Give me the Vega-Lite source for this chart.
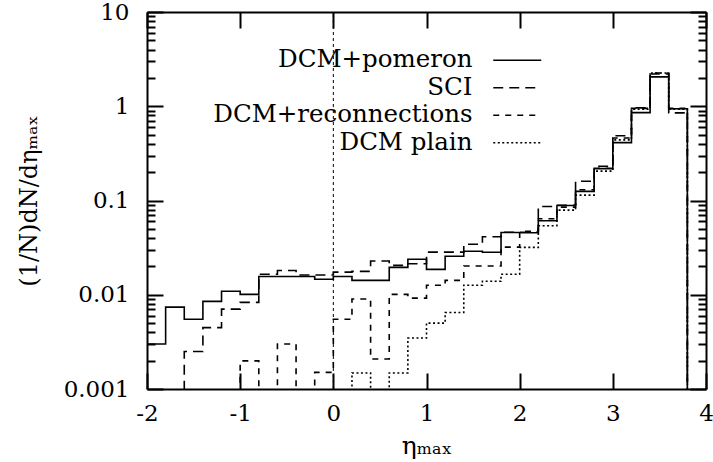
{
  "$schema": "https://vega.github.io/schema/vega-lite/v6.json",
  "width": 559,
  "height": 377,
  "autosize": {"type": "none"},
  "padding": {"left": 147, "top": 12, "right": 7, "bottom": 73},
  "background": "white",
  "config": {
    "view": {"stroke": null},
    "font": "DejaVu Serif",
    "axis": {
      "grid": false,
      "domainColor": "black",
      "domainWidth": 2,
      "tickColor": "black",
      "tickWidth": 2,
      "labelColor": "black",
      "titleColor": "black",
      "labelFont": "DejaVu Serif",
      "titleFont": "DejaVu Serif",
      "titleFontWeight": "normal",
      "labelFlush": false
    }
  },
  "datasets": {
    "hist": [
      {"model": "DCM+pomeron", "eta": -2.0, "value": 0.0030},
      {"model": "DCM+pomeron", "eta": -1.8, "value": 0.0074},
      {"model": "DCM+pomeron", "eta": -1.6, "value": 0.0055},
      {"model": "DCM+pomeron", "eta": -1.4, "value": 0.0085},
      {"model": "DCM+pomeron", "eta": -1.2, "value": 0.0109},
      {"model": "DCM+pomeron", "eta": -1.0, "value": 0.0101},
      {"model": "DCM+pomeron", "eta": -0.8, "value": 0.0156},
      {"model": "DCM+pomeron", "eta": -0.6, "value": 0.0156},
      {"model": "DCM+pomeron", "eta": -0.4, "value": 0.0156},
      {"model": "DCM+pomeron", "eta": -0.2, "value": 0.0146},
      {"model": "DCM+pomeron", "eta": 0.0, "value": 0.0156},
      {"model": "DCM+pomeron", "eta": 0.2, "value": 0.0142},
      {"model": "DCM+pomeron", "eta": 0.4, "value": 0.0142},
      {"model": "DCM+pomeron", "eta": 0.6, "value": 0.0195},
      {"model": "DCM+pomeron", "eta": 0.8, "value": 0.0238},
      {"model": "DCM+pomeron", "eta": 1.0, "value": 0.0186},
      {"model": "DCM+pomeron", "eta": 1.2, "value": 0.0256},
      {"model": "DCM+pomeron", "eta": 1.4, "value": 0.0289},
      {"model": "DCM+pomeron", "eta": 1.6, "value": 0.0282},
      {"model": "DCM+pomeron", "eta": 1.8, "value": 0.0458},
      {"model": "DCM+pomeron", "eta": 2.0, "value": 0.0455},
      {"model": "DCM+pomeron", "eta": 2.2, "value": 0.061},
      {"model": "DCM+pomeron", "eta": 2.4, "value": 0.0886},
      {"model": "DCM+pomeron", "eta": 2.6, "value": 0.125},
      {"model": "DCM+pomeron", "eta": 2.8, "value": 0.217},
      {"model": "DCM+pomeron", "eta": 3.0, "value": 0.411},
      {"model": "DCM+pomeron", "eta": 3.2, "value": 0.855},
      {"model": "DCM+pomeron", "eta": 3.4, "value": 2.05},
      {"model": "DCM+pomeron", "eta": 3.6, "value": 0.94},
      {"model": "DCM+pomeron", "eta": 3.8, "value": 0.00001},
      {"model": "SCI", "eta": -2.0, "value": 0.00001},
      {"model": "SCI", "eta": -1.8, "value": 0.00001},
      {"model": "SCI", "eta": -1.6, "value": 0.0025},
      {"model": "SCI", "eta": -1.4, "value": 0.00448},
      {"model": "SCI", "eta": -1.2, "value": 0.00703},
      {"model": "SCI", "eta": -1.0, "value": 0.0083},
      {"model": "SCI", "eta": -0.8, "value": 0.0165},
      {"model": "SCI", "eta": -0.6, "value": 0.0181},
      {"model": "SCI", "eta": -0.4, "value": 0.0162},
      {"model": "SCI", "eta": -0.2, "value": 0.0162},
      {"model": "SCI", "eta": 0.0, "value": 0.0174},
      {"model": "SCI", "eta": 0.2, "value": 0.0177},
      {"model": "SCI", "eta": 0.4, "value": 0.0228},
      {"model": "SCI", "eta": 0.6, "value": 0.0205},
      {"model": "SCI", "eta": 0.8, "value": 0.0213},
      {"model": "SCI", "eta": 1.0, "value": 0.0283},
      {"model": "SCI", "eta": 1.2, "value": 0.0283},
      {"model": "SCI", "eta": 1.4, "value": 0.0343},
      {"model": "SCI", "eta": 1.6, "value": 0.0413},
      {"model": "SCI", "eta": 1.8, "value": 0.046},
      {"model": "SCI", "eta": 2.0, "value": 0.046},
      {"model": "SCI", "eta": 2.2, "value": 0.0865},
      {"model": "SCI", "eta": 2.4, "value": 0.089},
      {"model": "SCI", "eta": 2.6, "value": 0.16},
      {"model": "SCI", "eta": 2.8, "value": 0.23},
      {"model": "SCI", "eta": 3.0, "value": 0.487},
      {"model": "SCI", "eta": 3.2, "value": 0.96},
      {"model": "SCI", "eta": 3.4, "value": 2.2},
      {"model": "SCI", "eta": 3.6, "value": 0.85},
      {"model": "SCI", "eta": 3.8, "value": 0.00001},
      {"model": "DCM+reconnections", "eta": -2.0, "value": 0.00001},
      {"model": "DCM+reconnections", "eta": -1.8, "value": 0.00001},
      {"model": "DCM+reconnections", "eta": -1.6, "value": 0.00001},
      {"model": "DCM+reconnections", "eta": -1.4, "value": 0.00001},
      {"model": "DCM+reconnections", "eta": -1.2, "value": 0.00001},
      {"model": "DCM+reconnections", "eta": -1.0, "value": 0.00199},
      {"model": "DCM+reconnections", "eta": -0.8, "value": 0.00001},
      {"model": "DCM+reconnections", "eta": -0.6, "value": 0.0030},
      {"model": "DCM+reconnections", "eta": -0.4, "value": 0.00001},
      {"model": "DCM+reconnections", "eta": -0.2, "value": 0.0015},
      {"model": "DCM+reconnections", "eta": 0.0, "value": 0.0055},
      {"model": "DCM+reconnections", "eta": 0.2, "value": 0.0090},
      {"model": "DCM+reconnections", "eta": 0.4, "value": 0.00208},
      {"model": "DCM+reconnections", "eta": 0.6, "value": 0.0101},
      {"model": "DCM+reconnections", "eta": 0.8, "value": 0.0092},
      {"model": "DCM+reconnections", "eta": 1.0, "value": 0.0126},
      {"model": "DCM+reconnections", "eta": 1.2, "value": 0.0142},
      {"model": "DCM+reconnections", "eta": 1.4, "value": 0.0202},
      {"model": "DCM+reconnections", "eta": 1.6, "value": 0.0202},
      {"model": "DCM+reconnections", "eta": 1.8, "value": 0.032},
      {"model": "DCM+reconnections", "eta": 2.0, "value": 0.047},
      {"model": "DCM+reconnections", "eta": 2.2, "value": 0.064},
      {"model": "DCM+reconnections", "eta": 2.4, "value": 0.085},
      {"model": "DCM+reconnections", "eta": 2.6, "value": 0.13},
      {"model": "DCM+reconnections", "eta": 2.8, "value": 0.22},
      {"model": "DCM+reconnections", "eta": 3.0, "value": 0.46},
      {"model": "DCM+reconnections", "eta": 3.2, "value": 0.95},
      {"model": "DCM+reconnections", "eta": 3.4, "value": 2.25},
      {"model": "DCM+reconnections", "eta": 3.6, "value": 0.95},
      {"model": "DCM+reconnections", "eta": 3.8, "value": 0.00001},
      {"model": "DCM plain", "eta": -2.0, "value": 0.00001},
      {"model": "DCM plain", "eta": -1.8, "value": 0.00001},
      {"model": "DCM plain", "eta": -1.6, "value": 0.00001},
      {"model": "DCM plain", "eta": -1.4, "value": 0.00001},
      {"model": "DCM plain", "eta": -1.2, "value": 0.00001},
      {"model": "DCM plain", "eta": -1.0, "value": 0.00001},
      {"model": "DCM plain", "eta": -0.8, "value": 0.00001},
      {"model": "DCM plain", "eta": -0.6, "value": 0.00001},
      {"model": "DCM plain", "eta": -0.4, "value": 0.00001},
      {"model": "DCM plain", "eta": -0.2, "value": 0.00001},
      {"model": "DCM plain", "eta": 0.0, "value": 0.00001},
      {"model": "DCM plain", "eta": 0.2, "value": 0.00148},
      {"model": "DCM plain", "eta": 0.4, "value": 0.00001},
      {"model": "DCM plain", "eta": 0.6, "value": 0.00148},
      {"model": "DCM plain", "eta": 0.8, "value": 0.00347},
      {"model": "DCM plain", "eta": 1.0, "value": 0.0050},
      {"model": "DCM plain", "eta": 1.2, "value": 0.00648},
      {"model": "DCM plain", "eta": 1.4, "value": 0.0126},
      {"model": "DCM plain", "eta": 1.6, "value": 0.0139},
      {"model": "DCM plain", "eta": 1.8, "value": 0.0165},
      {"model": "DCM plain", "eta": 2.0, "value": 0.0318},
      {"model": "DCM plain", "eta": 2.2, "value": 0.054},
      {"model": "DCM plain", "eta": 2.4, "value": 0.079},
      {"model": "DCM plain", "eta": 2.6, "value": 0.114},
      {"model": "DCM plain", "eta": 2.8, "value": 0.205},
      {"model": "DCM plain", "eta": 3.0, "value": 0.44},
      {"model": "DCM plain", "eta": 3.2, "value": 0.93},
      {"model": "DCM plain", "eta": 3.4, "value": 2.25},
      {"model": "DCM plain", "eta": 3.6, "value": 0.93},
      {"model": "DCM plain", "eta": 3.8, "value": 0.00001}
    ],
    "zero": [{"eta": 0}]
  },
  "resolve": {
    "scale": {"x": "shared", "y": "shared"},
    "axis": {"x": "independent", "y": "independent"}
  },
  "layer": [
    {
      "data": {"name": "hist"},
      "mark": {"type": "line", "interpolate": "step-after", "clip": true, "color": "black", "strokeWidth": 1.6},
      "encoding": {
        "x": {
          "field": "eta", "type": "quantitative",
          "scale": {"domain": [-2, 4], "nice": false, "zero": false},
          "axis": {"orient": "bottom", "values": [-2, -1, 0, 1, 2, 3, 4], "ticks": false, "domain": false,
                   "labelExpr": "'' + datum.value", "labelFontSize": 23, "labelPadding": 13,
                   "title": "ηₘₐₓ", "titleFontSize": 25, "titlePadding": 8}
        },
        "y": {
          "field": "value", "type": "quantitative",
          "scale": {"type": "log", "domain": [0.001, 10], "nice": false},
          "axis": {"orient": "left", "values": [0.001, 0.01, 0.1, 1, 10], "ticks": false, "domain": false,
                   "labelExpr": "'' + datum.value", "labelFontSize": 23, "labelPadding": 18,
                   "title": "(1/N)dN/dηₘₐₓ", "titleFontSize": 24, "titlePadding": 22}
        },
        "strokeDash": {
          "field": "model", "type": "nominal",
          "scale": {"domain": ["DCM+pomeron", "SCI", "DCM+reconnections", "DCM plain"],
                    "range": [[1, 0], [10, 6], [6, 6], [2, 2.5]]},
          "legend": {"orient": "none", "legendX": 358, "legendY": 36, "title": null,
                     "symbolType": "M-4,0H4", "symbolSize": 144, "symbolStrokeWidth": 1.6,
                     "symbolStrokeColor": "black", "symbolFillColor": "transparent",
                     "labelAlign": "right", "labelOffset": -57,
                     "labelFontSize": 24.5, "labelFont": "DejaVu Serif", "labelColor": "black",
                     "rowPadding": 2.5, "labelLimit": 500, "padding": 0}
        }
      }
    },
    {
      "data": {"name": "zero"},
      "mark": {"type": "rule", "color": "black", "strokeWidth": 1, "strokeDash": [3, 3]},
      "encoding": {
        "x": {"field": "eta", "type": "quantitative",
              "axis": {"orient": "bottom", "values": [-2, -1, 0, 1, 2, 3, 4], "labels": false, "title": null,
                       "tickSize": -16, "domain": true}},
        "y": {"datum": 0.001, "type": "quantitative",
              "axis": {"orient": "left", "labels": false, "title": null, "domain": true,
                       "values": [0.001,0.002,0.003,0.004,0.005,0.006,0.007,0.008,0.009,0.01,0.02,0.03,0.04,0.05,0.06,0.07,0.08,0.09,0.1,0.2,0.3,0.4,0.5,0.6,0.7,0.8,0.9,1,2,3,4,5,6,7,8,9,10],
                       "tickSize": {"condition": {"test": "abs(log(datum.value)/LN10 - round(log(datum.value)/LN10)) < 0.001", "value": -16}, "value": -8}}},
        "y2": {"datum": 10}
      }
    },
    {
      "data": {"name": "zero"},
      "mark": {"type": "rule", "color": "black", "opacity": 0},
      "encoding": {
        "x": {"field": "eta", "type": "quantitative",
              "axis": {"orient": "top", "values": [-2, -1, 0, 1, 2, 3, 4], "labels": false, "title": null,
                       "tickSize": -16, "domain": true}},
        "y": {"datum": 0.001, "type": "quantitative",
              "axis": {"orient": "right", "labels": false, "title": null, "domain": true,
                       "values": [0.001,0.002,0.003,0.004,0.005,0.006,0.007,0.008,0.009,0.01,0.02,0.03,0.04,0.05,0.06,0.07,0.08,0.09,0.1,0.2,0.3,0.4,0.5,0.6,0.7,0.8,0.9,1,2,3,4,5,6,7,8,9,10],
                       "tickSize": {"condition": {"test": "abs(log(datum.value)/LN10 - round(log(datum.value)/LN10)) < 0.001", "value": -16}, "value": -8}}},
        "y2": {"datum": 10}
      }
    }
  ]
}
